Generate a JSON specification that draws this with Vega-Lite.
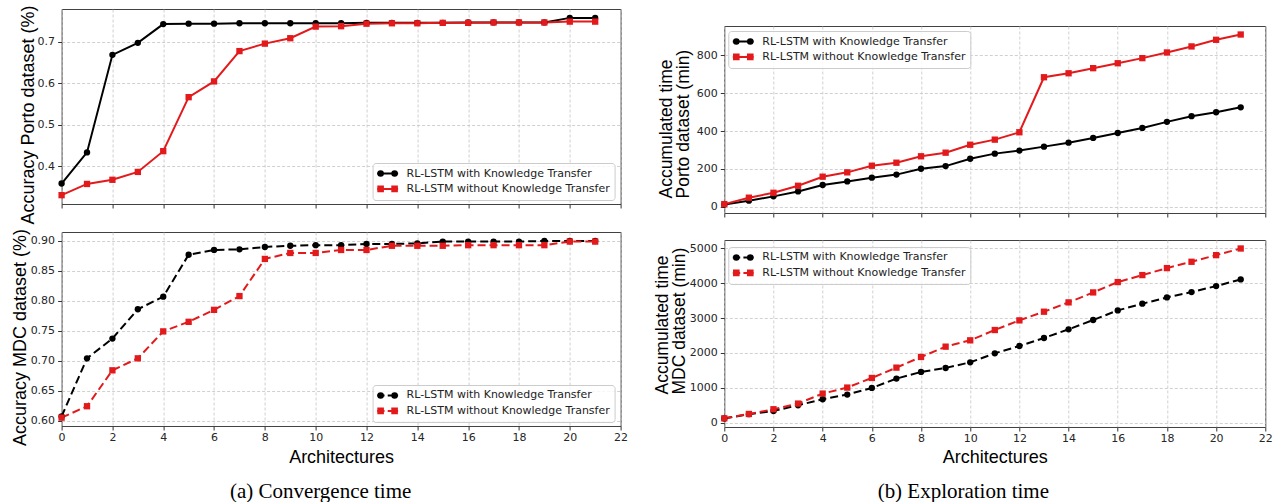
{
  "$schema": "https://vega.github.io/schema/vega-lite/v6.json",
  "background": "white",
  "padding": {"left": 10.6, "top": 4, "right": 5, "bottom": 0},
  "config": {
    "view": {"stroke": "#404040", "strokeWidth": 1},
    "axis": {
      "domain": false, "grid": true, "gridColor": "#c4c4c4", "gridDash": [3, 2], "gridWidth": 0.8,
      "ticks": true, "tickColor": "#333333", "tickSize": 4, "tickWidth": 1,
      "labelFont": "DejaVu Sans", "labelFontSize": 11, "labelColor": "#262626", "labelPadding": 2, "labelFlush": false,
      "titleFont": "Liberation Sans", "titleFontSize": 18, "titleFontWeight": "normal", "titleColor": "#000000"
    },
    "axisY": {"labelPadding": 3},
    "legend": {
      "fillColor": "rgba(255,255,255,0.8)", "strokeColor": "#cccccc", "cornerRadius": 3, "padding": 4, "rowPadding": 2.4,
      "labelFont": "DejaVu Sans", "labelFontSize": 11, "labelColor": "#222222", "labelOffset": 12.5, "labelLimit": 400,
      "symbolSize": 121, "symbolOffset": 4.5, "symbolStrokeWidth": 2, "symbolOpacity": 1
    }
  },
  "datasets": {
    "porto_acc": [
      {"arch":0,"series":"RL-LSTM with Knowledge Transfer","value":0.358},{"arch":1,"series":"RL-LSTM with Knowledge Transfer","value":0.433},{"arch":2,"series":"RL-LSTM with Knowledge Transfer","value":0.668},{"arch":3,"series":"RL-LSTM with Knowledge Transfer","value":0.697},{"arch":4,"series":"RL-LSTM with Knowledge Transfer","value":0.742},{"arch":5,"series":"RL-LSTM with Knowledge Transfer","value":0.743},{"arch":6,"series":"RL-LSTM with Knowledge Transfer","value":0.743},{"arch":7,"series":"RL-LSTM with Knowledge Transfer","value":0.744},{"arch":8,"series":"RL-LSTM with Knowledge Transfer","value":0.744},{"arch":9,"series":"RL-LSTM with Knowledge Transfer","value":0.744},{"arch":10,"series":"RL-LSTM with Knowledge Transfer","value":0.744},{"arch":11,"series":"RL-LSTM with Knowledge Transfer","value":0.744},{"arch":12,"series":"RL-LSTM with Knowledge Transfer","value":0.745},{"arch":13,"series":"RL-LSTM with Knowledge Transfer","value":0.745},{"arch":14,"series":"RL-LSTM with Knowledge Transfer","value":0.745},{"arch":15,"series":"RL-LSTM with Knowledge Transfer","value":0.745},{"arch":16,"series":"RL-LSTM with Knowledge Transfer","value":0.746},{"arch":17,"series":"RL-LSTM with Knowledge Transfer","value":0.746},{"arch":18,"series":"RL-LSTM with Knowledge Transfer","value":0.746},{"arch":19,"series":"RL-LSTM with Knowledge Transfer","value":0.746},{"arch":20,"series":"RL-LSTM with Knowledge Transfer","value":0.757},{"arch":21,"series":"RL-LSTM with Knowledge Transfer","value":0.757},
      {"arch":0,"series":"RL-LSTM without Knowledge Transfer","value":0.330},{"arch":1,"series":"RL-LSTM without Knowledge Transfer","value":0.357},{"arch":2,"series":"RL-LSTM without Knowledge Transfer","value":0.367},{"arch":3,"series":"RL-LSTM without Knowledge Transfer","value":0.386},{"arch":4,"series":"RL-LSTM without Knowledge Transfer","value":0.436},{"arch":5,"series":"RL-LSTM without Knowledge Transfer","value":0.566},{"arch":6,"series":"RL-LSTM without Knowledge Transfer","value":0.604},{"arch":7,"series":"RL-LSTM without Knowledge Transfer","value":0.677},{"arch":8,"series":"RL-LSTM without Knowledge Transfer","value":0.695},{"arch":9,"series":"RL-LSTM without Knowledge Transfer","value":0.708},{"arch":10,"series":"RL-LSTM without Knowledge Transfer","value":0.736},{"arch":11,"series":"RL-LSTM without Knowledge Transfer","value":0.737},{"arch":12,"series":"RL-LSTM without Knowledge Transfer","value":0.743},{"arch":13,"series":"RL-LSTM without Knowledge Transfer","value":0.744},{"arch":14,"series":"RL-LSTM without Knowledge Transfer","value":0.744},{"arch":15,"series":"RL-LSTM without Knowledge Transfer","value":0.745},{"arch":16,"series":"RL-LSTM without Knowledge Transfer","value":0.745},{"arch":17,"series":"RL-LSTM without Knowledge Transfer","value":0.746},{"arch":18,"series":"RL-LSTM without Knowledge Transfer","value":0.746},{"arch":19,"series":"RL-LSTM without Knowledge Transfer","value":0.746},{"arch":20,"series":"RL-LSTM without Knowledge Transfer","value":0.748},{"arch":21,"series":"RL-LSTM without Knowledge Transfer","value":0.748}
    ],
    "mdc_acc": [
      {"arch":0,"series":"RL-LSTM with Knowledge Transfer","value":0.607},{"arch":1,"series":"RL-LSTM with Knowledge Transfer","value":0.704},{"arch":2,"series":"RL-LSTM with Knowledge Transfer","value":0.737},{"arch":3,"series":"RL-LSTM with Knowledge Transfer","value":0.786},{"arch":4,"series":"RL-LSTM with Knowledge Transfer","value":0.807},{"arch":5,"series":"RL-LSTM with Knowledge Transfer","value":0.877},{"arch":6,"series":"RL-LSTM with Knowledge Transfer","value":0.885},{"arch":7,"series":"RL-LSTM with Knowledge Transfer","value":0.886},{"arch":8,"series":"RL-LSTM with Knowledge Transfer","value":0.890},{"arch":9,"series":"RL-LSTM with Knowledge Transfer","value":0.892},{"arch":10,"series":"RL-LSTM with Knowledge Transfer","value":0.893},{"arch":11,"series":"RL-LSTM with Knowledge Transfer","value":0.893},{"arch":12,"series":"RL-LSTM with Knowledge Transfer","value":0.895},{"arch":13,"series":"RL-LSTM with Knowledge Transfer","value":0.895},{"arch":14,"series":"RL-LSTM with Knowledge Transfer","value":0.896},{"arch":15,"series":"RL-LSTM with Knowledge Transfer","value":0.899},{"arch":16,"series":"RL-LSTM with Knowledge Transfer","value":0.899},{"arch":17,"series":"RL-LSTM with Knowledge Transfer","value":0.899},{"arch":18,"series":"RL-LSTM with Knowledge Transfer","value":0.899},{"arch":19,"series":"RL-LSTM with Knowledge Transfer","value":0.900},{"arch":20,"series":"RL-LSTM with Knowledge Transfer","value":0.900},{"arch":21,"series":"RL-LSTM with Knowledge Transfer","value":0.900},
      {"arch":0,"series":"RL-LSTM without Knowledge Transfer","value":0.605},{"arch":1,"series":"RL-LSTM without Knowledge Transfer","value":0.624},{"arch":2,"series":"RL-LSTM without Knowledge Transfer","value":0.684},{"arch":3,"series":"RL-LSTM without Knowledge Transfer","value":0.704},{"arch":4,"series":"RL-LSTM without Knowledge Transfer","value":0.749},{"arch":5,"series":"RL-LSTM without Knowledge Transfer","value":0.765},{"arch":6,"series":"RL-LSTM without Knowledge Transfer","value":0.785},{"arch":7,"series":"RL-LSTM without Knowledge Transfer","value":0.808},{"arch":8,"series":"RL-LSTM without Knowledge Transfer","value":0.870},{"arch":9,"series":"RL-LSTM without Knowledge Transfer","value":0.880},{"arch":10,"series":"RL-LSTM without Knowledge Transfer","value":0.880},{"arch":11,"series":"RL-LSTM without Knowledge Transfer","value":0.885},{"arch":12,"series":"RL-LSTM without Knowledge Transfer","value":0.885},{"arch":13,"series":"RL-LSTM without Knowledge Transfer","value":0.892},{"arch":14,"series":"RL-LSTM without Knowledge Transfer","value":0.892},{"arch":15,"series":"RL-LSTM without Knowledge Transfer","value":0.892},{"arch":16,"series":"RL-LSTM without Knowledge Transfer","value":0.893},{"arch":17,"series":"RL-LSTM without Knowledge Transfer","value":0.893},{"arch":18,"series":"RL-LSTM without Knowledge Transfer","value":0.893},{"arch":19,"series":"RL-LSTM without Knowledge Transfer","value":0.893},{"arch":20,"series":"RL-LSTM without Knowledge Transfer","value":0.899},{"arch":21,"series":"RL-LSTM without Knowledge Transfer","value":0.899}
    ],
    "porto_time": [
      {"arch":0,"series":"RL-LSTM with Knowledge Transfer","value":12},{"arch":1,"series":"RL-LSTM with Knowledge Transfer","value":32},{"arch":2,"series":"RL-LSTM with Knowledge Transfer","value":55},{"arch":3,"series":"RL-LSTM with Knowledge Transfer","value":81},{"arch":4,"series":"RL-LSTM with Knowledge Transfer","value":115},{"arch":5,"series":"RL-LSTM with Knowledge Transfer","value":134},{"arch":6,"series":"RL-LSTM with Knowledge Transfer","value":154},{"arch":7,"series":"RL-LSTM with Knowledge Transfer","value":170},{"arch":8,"series":"RL-LSTM with Knowledge Transfer","value":201},{"arch":9,"series":"RL-LSTM with Knowledge Transfer","value":215},{"arch":10,"series":"RL-LSTM with Knowledge Transfer","value":254},{"arch":11,"series":"RL-LSTM with Knowledge Transfer","value":281},{"arch":12,"series":"RL-LSTM with Knowledge Transfer","value":297},{"arch":13,"series":"RL-LSTM with Knowledge Transfer","value":318},{"arch":14,"series":"RL-LSTM with Knowledge Transfer","value":339},{"arch":15,"series":"RL-LSTM with Knowledge Transfer","value":364},{"arch":16,"series":"RL-LSTM with Knowledge Transfer","value":390},{"arch":17,"series":"RL-LSTM with Knowledge Transfer","value":417},{"arch":18,"series":"RL-LSTM with Knowledge Transfer","value":449},{"arch":19,"series":"RL-LSTM with Knowledge Transfer","value":479},{"arch":20,"series":"RL-LSTM with Knowledge Transfer","value":500},{"arch":21,"series":"RL-LSTM with Knowledge Transfer","value":526},
      {"arch":0,"series":"RL-LSTM without Knowledge Transfer","value":14},{"arch":1,"series":"RL-LSTM without Knowledge Transfer","value":48},{"arch":2,"series":"RL-LSTM without Knowledge Transfer","value":74},{"arch":3,"series":"RL-LSTM without Knowledge Transfer","value":111},{"arch":4,"series":"RL-LSTM without Knowledge Transfer","value":159},{"arch":5,"series":"RL-LSTM without Knowledge Transfer","value":182},{"arch":6,"series":"RL-LSTM without Knowledge Transfer","value":217},{"arch":7,"series":"RL-LSTM without Knowledge Transfer","value":233},{"arch":8,"series":"RL-LSTM without Knowledge Transfer","value":267},{"arch":9,"series":"RL-LSTM without Knowledge Transfer","value":286},{"arch":10,"series":"RL-LSTM without Knowledge Transfer","value":328},{"arch":11,"series":"RL-LSTM without Knowledge Transfer","value":355},{"arch":12,"series":"RL-LSTM without Knowledge Transfer","value":394},{"arch":13,"series":"RL-LSTM without Knowledge Transfer","value":685},{"arch":14,"series":"RL-LSTM without Knowledge Transfer","value":706},{"arch":15,"series":"RL-LSTM without Knowledge Transfer","value":733},{"arch":16,"series":"RL-LSTM without Knowledge Transfer","value":759},{"arch":17,"series":"RL-LSTM without Knowledge Transfer","value":786},{"arch":18,"series":"RL-LSTM without Knowledge Transfer","value":816},{"arch":19,"series":"RL-LSTM without Knowledge Transfer","value":848},{"arch":20,"series":"RL-LSTM without Knowledge Transfer","value":883},{"arch":21,"series":"RL-LSTM without Knowledge Transfer","value":911}
    ],
    "mdc_time": [
      {"arch":0,"series":"RL-LSTM with Knowledge Transfer","value":125},{"arch":1,"series":"RL-LSTM with Knowledge Transfer","value":250},{"arch":2,"series":"RL-LSTM with Knowledge Transfer","value":340},{"arch":3,"series":"RL-LSTM with Knowledge Transfer","value":505},{"arch":4,"series":"RL-LSTM with Knowledge Transfer","value":676},{"arch":5,"series":"RL-LSTM with Knowledge Transfer","value":810},{"arch":6,"series":"RL-LSTM with Knowledge Transfer","value":1000},{"arch":7,"series":"RL-LSTM with Knowledge Transfer","value":1267},{"arch":8,"series":"RL-LSTM with Knowledge Transfer","value":1457},{"arch":9,"series":"RL-LSTM with Knowledge Transfer","value":1571},{"arch":10,"series":"RL-LSTM with Knowledge Transfer","value":1733},{"arch":11,"series":"RL-LSTM with Knowledge Transfer","value":1990},{"arch":12,"series":"RL-LSTM with Knowledge Transfer","value":2200},{"arch":13,"series":"RL-LSTM with Knowledge Transfer","value":2429},{"arch":14,"series":"RL-LSTM with Knowledge Transfer","value":2676},{"arch":15,"series":"RL-LSTM with Knowledge Transfer","value":2943},{"arch":16,"series":"RL-LSTM with Knowledge Transfer","value":3219},{"arch":17,"series":"RL-LSTM with Knowledge Transfer","value":3410},{"arch":18,"series":"RL-LSTM with Knowledge Transfer","value":3590},{"arch":19,"series":"RL-LSTM with Knowledge Transfer","value":3743},{"arch":20,"series":"RL-LSTM with Knowledge Transfer","value":3914},{"arch":21,"series":"RL-LSTM with Knowledge Transfer","value":4105},
      {"arch":0,"series":"RL-LSTM without Knowledge Transfer","value":130},{"arch":1,"series":"RL-LSTM without Knowledge Transfer","value":255},{"arch":2,"series":"RL-LSTM without Knowledge Transfer","value":390},{"arch":3,"series":"RL-LSTM without Knowledge Transfer","value":552},{"arch":4,"series":"RL-LSTM without Knowledge Transfer","value":838},{"arch":5,"series":"RL-LSTM without Knowledge Transfer","value":1010},{"arch":6,"series":"RL-LSTM without Knowledge Transfer","value":1286},{"arch":7,"series":"RL-LSTM without Knowledge Transfer","value":1581},{"arch":8,"series":"RL-LSTM without Knowledge Transfer","value":1886},{"arch":9,"series":"RL-LSTM without Knowledge Transfer","value":2181},{"arch":10,"series":"RL-LSTM without Knowledge Transfer","value":2362},{"arch":11,"series":"RL-LSTM without Knowledge Transfer","value":2657},{"arch":12,"series":"RL-LSTM without Knowledge Transfer","value":2933},{"arch":13,"series":"RL-LSTM without Knowledge Transfer","value":3181},{"arch":14,"series":"RL-LSTM without Knowledge Transfer","value":3448},{"arch":15,"series":"RL-LSTM without Knowledge Transfer","value":3733},{"arch":16,"series":"RL-LSTM without Knowledge Transfer","value":4029},{"arch":17,"series":"RL-LSTM without Knowledge Transfer","value":4229},{"arch":18,"series":"RL-LSTM without Knowledge Transfer","value":4429},{"arch":19,"series":"RL-LSTM without Knowledge Transfer","value":4610},{"arch":20,"series":"RL-LSTM without Knowledge Transfer","value":4800},{"arch":21,"series":"RL-LSTM without Knowledge Transfer","value":4990}
    ]
  },
  "spacing": 24.7,
  "resolve": {"scale": {"color": "independent", "shape": "independent"}, "legend": {"color": "independent", "shape": "independent"}},
  "hconcat": [
    {
      "resolve": {"scale": {"color": "independent", "shape": "independent"}, "legend": {"color": "independent", "shape": "independent"}},
      "vconcat": [
        {
          "width": 559, "height": 195,
          "data": {"name": "porto_acc"},
          "encoding": {
            "x": {"field": "arch", "type": "quantitative", "scale": {"domain": [0, 22], "nice": false, "zero": false},
                  "axis": {"values": [0,2,4,6,8,10,12,14,16,18,20,22], "labels": false, "title": null}},
            "y": {"field": "value", "type": "quantitative", "scale": {"domain": [0.3087, 0.7784], "nice": false, "zero": false},
                  "axis": {"values": [0.4,0.5,0.6,0.7], "format": ".1f", "title": "Accuracy Porto dataset (%)", "titleAngle": 270, "titleAlign": "center", "titleBaseline": "alphabetic", "titleX": -28, "titleY": 105.5}},
            "color": {"field": "series", "type": "nominal",
                      "scale": {"domain": ["RL-LSTM with Knowledge Transfer", "RL-LSTM without Knowledge Transfer"], "range": ["#000000", "#e31a1c"]},
                      "legend": {"title": null, "orient": "none", "legendX": 311, "legendY": 154, "zindex": 1}}
          },
          "layer": [
            {"mark": {"type": "line", "strokeWidth": 2}},
            {"mark": {"type": "point", "filled": false, "opacity": 0},
             "encoding": {"shape": {"field": "series", "type": "nominal", "scale": {"domain": ["RL-LSTM with Knowledge Transfer", "RL-LSTM without Knowledge Transfer"], "range": ["M-1.91,0L1.91,0M-1.69,0a0.42,0.42 0 1,0 0.84,0a0.42,0.42 0 1,0 -0.84,0M0.85,0a0.42,0.42 0 1,0 0.84,0a0.42,0.42 0 1,0 -0.84,0", "M-1.91,0L1.91,0M-1.69,-0.42h0.84v0.84h-0.84zM0.85,-0.42h0.84v0.84h-0.84z"]}, "legend": {"title": null, "orient": "none", "legendX": 311, "legendY": 154, "zindex": 1}}}},
            {"transform": [{"filter": "datum.series === 'RL-LSTM with Knowledge Transfer'"}], "mark": {"type": "point", "shape": "circle", "filled": true, "opacity": 1, "size": 40}},
            {"transform": [{"filter": "datum.series === 'RL-LSTM without Knowledge Transfer'"}], "mark": {"type": "point", "shape": "square", "filled": true, "opacity": 1, "size": 40}}
          ]
        },
        {
          "width": 559, "height": 194,
          "data": {"name": "mdc_acc"},
          "title": {"text": "(a) Convergence time", "orient": "bottom", "anchor": "middle", "frame": "group", "offset": 14, "dx": -20.5, "baseline": "top", "font": "Liberation Serif", "fontSize": 21, "fontWeight": "normal", "color": "#000000"},
          "encoding": {
            "x": {"field": "arch", "type": "quantitative", "scale": {"domain": [0, 22], "nice": false, "zero": false},
                  "axis": {"values": [0,2,4,6,8,10,12,14,16,18,20,22], "format": "d", "title": "Architectures", "titleBaseline": "alphabetic", "titleY": 37}},
            "y": {"field": "value", "type": "quantitative", "scale": {"domain": [0.591, 0.915], "nice": false, "zero": false},
                  "axis": {"values": [0.6,0.65,0.7,0.75,0.8,0.85,0.9], "format": ".2f", "title": "Accuracy MDC dataset (%)", "titleAngle": 270, "titleAlign": "center", "titleBaseline": "alphabetic", "titleX": -36, "titleY": 105}},
            "color": {"field": "series", "type": "nominal",
                      "scale": {"domain": ["RL-LSTM with Knowledge Transfer", "RL-LSTM without Knowledge Transfer"], "range": ["#000000", "#e31a1c"]},
                      "legend": {"title": null, "orient": "none", "legendX": 311, "legendY": 153, "zindex": 1}}
          },
          "layer": [
            {"mark": {"type": "line", "strokeWidth": 2, "strokeDash": [8, 4]}},
            {"mark": {"type": "point", "filled": false, "opacity": 0},
             "encoding": {"shape": {"field": "series", "type": "nominal", "scale": {"domain": ["RL-LSTM with Knowledge Transfer", "RL-LSTM without Knowledge Transfer"], "range": ["M-1.91,0L-0.56,0M0.02,0L1.91,0M-1.69,0a0.42,0.42 0 1,0 0.84,0a0.42,0.42 0 1,0 -0.84,0M0.85,0a0.42,0.42 0 1,0 0.84,0a0.42,0.42 0 1,0 -0.84,0", "M-1.91,0L-0.56,0M0.02,0L1.91,0M-1.69,-0.42h0.84v0.84h-0.84zM0.85,-0.42h0.84v0.84h-0.84z"]}, "legend": {"title": null, "orient": "none", "legendX": 311, "legendY": 153, "zindex": 1}}}},
            {"transform": [{"filter": "datum.series === 'RL-LSTM with Knowledge Transfer'"}], "mark": {"type": "point", "shape": "circle", "filled": true, "opacity": 1, "size": 40}},
            {"transform": [{"filter": "datum.series === 'RL-LSTM without Knowledge Transfer'"}], "mark": {"type": "point", "shape": "square", "filled": true, "opacity": 1, "size": 40}}
          ]
        }
      ],
      "spacing": 28,
      "bounds": "flush"
    },
    {
      "resolve": {"scale": {"color": "independent", "shape": "independent"}, "legend": {"color": "independent", "shape": "independent"}},
      "vconcat": [
        {"width": 541, "height": 1, "data": {"values": []}, "mark": "point", "encoding": {}, "view": {"stroke": null}},
        {
          "resolve": {"scale": {"color": "independent", "shape": "independent"}, "legend": {"color": "independent", "shape": "independent"}},
          "vconcat": [
            {
              "width": 541, "height": 187,
              "data": {"name": "porto_time"},
              "encoding": {
                "x": {"field": "arch", "type": "quantitative", "scale": {"domain": [0, 22], "nice": false, "zero": false},
                      "axis": {"values": [0,2,4,6,8,10,12,14,16,18,20,22], "labels": false, "title": null}},
                "y": {"field": "value", "type": "quantitative", "scale": {"domain": [-33, 956], "nice": false, "zero": false},
                      "axis": {"values": [0,200,400,600,800], "format": "d", "title": ["Accumulated time", "Porto dataset (min)"], "titleFontSize": 17.5, "titleLineHeight": 17, "titleAngle": 270, "titleAlign": "left", "titleBaseline": "bottom", "titleX": -48.6, "titleY": 172}},
                "color": {"field": "series", "type": "nominal",
                          "scale": {"domain": ["RL-LSTM with Knowledge Transfer", "RL-LSTM without Knowledge Transfer"], "range": ["#000000", "#e31a1c"]},
                          "legend": {"title": null, "orient": "none", "legendX": 4, "legendY": 5, "zindex": 1}}
              },
              "layer": [
                {"mark": {"type": "line", "strokeWidth": 2}},
                {"mark": {"type": "point", "filled": false, "opacity": 0},
                 "encoding": {"shape": {"field": "series", "type": "nominal", "scale": {"domain": ["RL-LSTM with Knowledge Transfer", "RL-LSTM without Knowledge Transfer"], "range": ["M-1.91,0L1.91,0M-1.69,0a0.42,0.42 0 1,0 0.84,0a0.42,0.42 0 1,0 -0.84,0M0.85,0a0.42,0.42 0 1,0 0.84,0a0.42,0.42 0 1,0 -0.84,0", "M-1.91,0L1.91,0M-1.69,-0.42h0.84v0.84h-0.84zM0.85,-0.42h0.84v0.84h-0.84z"]}, "legend": {"title": null, "orient": "none", "legendX": 4, "legendY": 5, "zindex": 1}}}},
                {"transform": [{"filter": "datum.series === 'RL-LSTM with Knowledge Transfer'"}], "mark": {"type": "point", "shape": "circle", "filled": true, "opacity": 1, "size": 40}},
                {"transform": [{"filter": "datum.series === 'RL-LSTM without Knowledge Transfer'"}], "mark": {"type": "point", "shape": "square", "filled": true, "opacity": 1, "size": 40}}
              ]
            },
            {
              "width": 541, "height": 187,
              "data": {"name": "mdc_time"},
              "title": {"text": "(b) Exploration time", "orient": "bottom", "anchor": "middle", "frame": "group", "offset": 14, "dx": -31.5, "baseline": "top", "font": "Liberation Serif", "fontSize": 21, "fontWeight": "normal", "color": "#000000"},
              "encoding": {
                "x": {"field": "arch", "type": "quantitative", "scale": {"domain": [0, 22], "nice": false, "zero": false},
                      "axis": {"values": [0,2,4,6,8,10,12,14,16,18,20,22], "format": "d", "title": "Architectures", "titleBaseline": "alphabetic", "titleY": 36}},
                "y": {"field": "value", "type": "quantitative", "scale": {"domain": [-118, 5233], "nice": false, "zero": false},
                      "axis": {"values": [0,1000,2000,3000,4000,5000], "format": "d", "title": ["Accumulated time", "MDC dataset (min)"], "titleFontSize": 17.5, "titleLineHeight": 17, "titleAngle": 270, "titleAlign": "left", "titleBaseline": "bottom", "titleX": -52.3, "titleY": 154}},
                "color": {"field": "series", "type": "nominal",
                          "scale": {"domain": ["RL-LSTM with Knowledge Transfer", "RL-LSTM without Knowledge Transfer"], "range": ["#000000", "#e31a1c"]},
                          "legend": {"title": null, "orient": "none", "legendX": 4, "legendY": 7, "zindex": 1}}
              },
              "layer": [
                {"mark": {"type": "line", "strokeWidth": 2, "strokeDash": [8, 4]}},
                {"mark": {"type": "point", "filled": false, "opacity": 0},
                 "encoding": {"shape": {"field": "series", "type": "nominal", "scale": {"domain": ["RL-LSTM with Knowledge Transfer", "RL-LSTM without Knowledge Transfer"], "range": ["M-1.91,0L-0.56,0M0.02,0L1.91,0M-1.69,0a0.42,0.42 0 1,0 0.84,0a0.42,0.42 0 1,0 -0.84,0M0.85,0a0.42,0.42 0 1,0 0.84,0a0.42,0.42 0 1,0 -0.84,0", "M-1.91,0L-0.56,0M0.02,0L1.91,0M-1.69,-0.42h0.84v0.84h-0.84zM0.85,-0.42h0.84v0.84h-0.84z"]}, "legend": {"title": null, "orient": "none", "legendX": 4, "legendY": 7, "zindex": 1}}}},
                {"transform": [{"filter": "datum.series === 'RL-LSTM with Knowledge Transfer'"}], "mark": {"type": "point", "shape": "circle", "filled": true, "opacity": 1, "size": 40}},
                {"transform": [{"filter": "datum.series === 'RL-LSTM without Knowledge Transfer'"}], "mark": {"type": "point", "shape": "square", "filled": true, "opacity": 1, "size": 40}}
              ]
            }
          ],
          "spacing": 27,
          "bounds": "flush"
        }
      ],
      "spacing": 16,
      "bounds": "flush"
    }
  ]
}
